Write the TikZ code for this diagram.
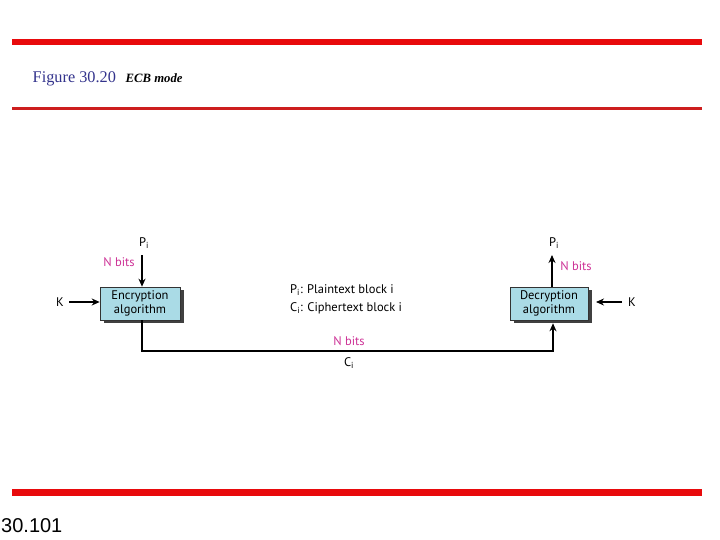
\documentclass[tikz,border=0pt]{standalone}
\usepackage{fontspec}
\setmainfont{PT Sans}
\newfontfamily\capfont{Liberation Serif}
\newfontfamily\numfont{Liberation Sans}
\usetikzlibrary{arrows.meta,shadows,calc}
\definecolor{barred}{RGB}{232,10,12}
\definecolor{linered}{RGB}{205,30,30}
\definecolor{capblue}{RGB}{51,51,140}
\definecolor{nbits}{RGB}{205,50,150}
\definecolor{boxfill}{RGB}{170,219,230}
\begin{document}
\begin{tikzpicture}[x=1pt,y=-1pt,
  algbox/.style={draw=black!80,line width=0.6pt,fill=boxfill,minimum width=80pt,minimum height=33pt,
    align=center,inner sep=0pt,font=\fontsize{12.5}{14.5}\selectfont,
    drop shadow={shadow xshift=3.5pt,shadow yshift=-3pt,fill=black!75,opacity=1}},
  lbl/.style={font=\fontsize{12.5}{14}\selectfont,inner sep=0pt},
  nb/.style={lbl,text=nbits},
  conn/.style={line width=1.1pt,-{Stealth[length=8pt,width=7pt]}},
  plain/.style={line width=1pt}]
\useasboundingbox (0,0) rectangle (720,540);
% bars
\fill[barred] (12,39) rectangle (702,45.5);
\fill[linered] (12,107) rectangle (702,110);
\fill[barred] (12,489) rectangle (702,495.5);
\node[anchor=base west,inner sep=0pt,text=capblue,font=\capfont\fontsize{16.3}{18}\selectfont] (fig) at (32.5,83) {Figure 30.20};
\node[anchor=base west,inner sep=0pt,font=\capfont\bfseries\itshape\fontsize{12.7}{14}\selectfont] (ttl) at (125.5,83) {ECB mode};
\node[anchor=base west,inner sep=0pt,font=\numfont\fontsize{20}{24}\selectfont] (pg) at (1,532) {30.101};
% boxes
\node[algbox] (enc) at (140,303.5) {Encryption\\algorithm};
\node[algbox,minimum width=78pt] (dec) at (549,303.5) {Decryption\\algorithm};
% left side
\node[lbl] (kl) at (60,302) {K};
\draw[conn] (kl.east) ++(5,0) coordinate (kls) -- (kls -| enc.west);
\node[lbl,anchor=base] (pil) at (144,246) {P\textsubscript{i}};
\coordinate (lt) at (142,255);
\draw[conn] (lt) -- (lt |- enc.north);
\node[nb,anchor=base] (nbl) at (119,266) {N bits};
% right side
\node[lbl] (kr) at (632,302) {K};
\coordinate (krs) at (622,302);
\coordinate (kre) at (596,302);
\draw[conn] (krs) -- (kre);
\node[lbl,anchor=base] (pir) at (554,246) {P\textsubscript{i}};
\coordinate (rt) at (552,255);
\draw[conn] (rt |- dec.north) -- (rt);
\node[nb,anchor=base] (nbr) at (576,270) {N bits};
% bottom
\coordinate (bl) at (142,351);
\coordinate (br) at (553,351);
\draw[conn] (bl |- enc.south) -- (bl) -- (br) -- ($(br |- dec.south)+(0,3)$);
\node[nb,anchor=base] (nbb) at (349,345) {N bits};
\node[lbl,anchor=base] (ci) at (349,366) {C\textsubscript{i}};
% legend
\node[lbl,anchor=base west,font=\fontsize{12.5}{15}\selectfont] (lg1) at (290,293) {P\textsubscript{i}: Plaintext block i};
\node[lbl,anchor=base west,font=\fontsize{12.5}{15}\selectfont] (lg2) at (290,311) {C\textsubscript{i}: Ciphertext block i};
\end{tikzpicture}
\end{document}
